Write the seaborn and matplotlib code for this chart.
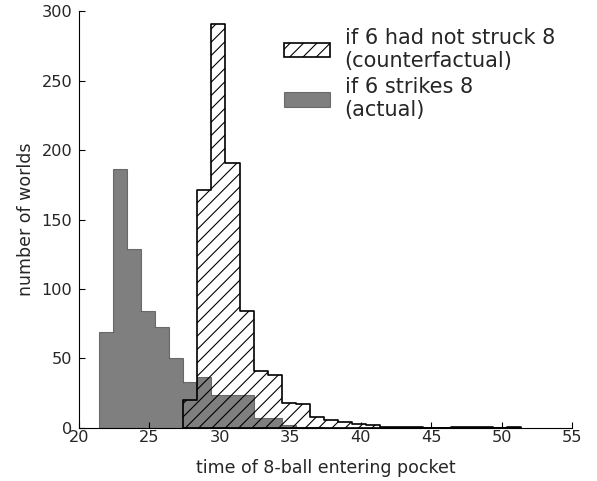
import numpy as np
import pandas as pd
import matplotlib
matplotlib.use("Agg")
import matplotlib.pyplot as plt
import matplotlib.patches as mpatches
import seaborn as sns

# bin edges (time of 8-ball entering pocket)
bin_edges = [21.4, 22.4, 23.4, 24.4, 25.4, 26.4, 27.4, 28.4, 29.4, 30.4,
             31.4, 32.4, 33.4, 34.4, 35.4, 36.4, 37.4, 38.4, 39.4, 40.4,
             41.4, 42.4, 43.4, 44.4, 45.4, 46.4, 47.4, 48.4, 49.4, 50.4, 51.4]

# counts per bin
actual_counts = [69, 186, 129, 84, 73, 50, 33, 37, 24, 24,
                 24, 7, 7, 2, 1, 1, 0, 0, 0, 0,
                 0, 0, 0, 0, 0, 0, 0, 0, 0, 0]
counterfactual_counts = [0, 0, 0, 0, 0, 0, 20, 171, 291, 191,
                         84, 41, 38, 18, 17, 8, 6, 4, 3, 2,
                         1, 1, 1, 0, 0, 1, 1, 1, 0, 1]

labels = ["if 6 had not struck 8\n(counterfactual)", "if 6 strikes 8\n(actual)"]


def to_frame(counts):
    edges = np.array(bin_edges)
    counts = np.array(counts)
    nz = np.nonzero(counts)[0]
    lo, hi = nz[0], nz[-1] + 1
    centers = (edges[lo:hi] + edges[lo + 1:hi + 1]) / 2
    return pd.DataFrame({"time": centers, "n": counts[lo:hi]}), list(edges[lo:hi + 1])


sns.set_style("ticks")
plt.rcParams["font.family"] = ["DejaVu Sans"]
plt.rcParams["hatch.linewidth"] = 1.0

fig = plt.figure(figsize=(597 / 80, 481 / 80), dpi=80)
ax = fig.add_axes([0.1323, 0.1102, 0.8258, 0.8669])

# counterfactual: white with diagonal hatch
cf_df, cf_edges = to_frame(counterfactual_counts)
sns.histplot(data=cf_df, x="time", weights="n", bins=cf_edges, element="step",
             fill=True, facecolor="white", edgecolor="black", hatch="//",
             linewidth=1.5, ax=ax)

# actual: translucent grey on top
ac_df, ac_edges = to_frame(actual_counts)
sns.histplot(data=ac_df, x="time", weights="n", bins=ac_edges, element="step",
             fill=True, facecolor=(0, 0, 0, 0.5), edgecolor=(0, 0, 0, 0.45),
             linewidth=1.0, ax=ax)

ax.set_xlim(20, 55)
ax.set_ylim(0, 300)
ax.set_xticks([20, 25, 30, 35, 40, 45, 50, 55])
ax.set_yticks([0, 50, 100, 150, 200, 250, 300])
ax.tick_params(direction="in", labelsize=14.5, length=5, width=1, color="black")
ax.tick_params(axis="x", pad=2)
ax.tick_params(axis="y", pad=6)
sns.despine(ax=ax)
for s in ["left", "bottom"]:
    ax.spines[s].set_linewidth(1.0)
    ax.spines[s].set_color("black")

ax.set_xlabel("time of 8-ball entering pocket", fontsize=15.6, labelpad=12)
ax.set_ylabel("number of worlds", fontsize=15.6, labelpad=6)

handles = [
    mpatches.Patch(facecolor="white", edgecolor="black", hatch="//", linewidth=1.5),
    mpatches.Patch(facecolor=(0, 0, 0, 0.5), edgecolor=(0, 0, 0, 0.45), linewidth=1.0),
]
ax.legend(handles, labels, loc="upper left", bbox_to_anchor=(0.378, 1.005),
          frameon=False, fontsize=18.8, handlelength=2.2, labelspacing=0.3,
          handletextpad=0.7)

fig.savefig("out.png", dpi=80)
